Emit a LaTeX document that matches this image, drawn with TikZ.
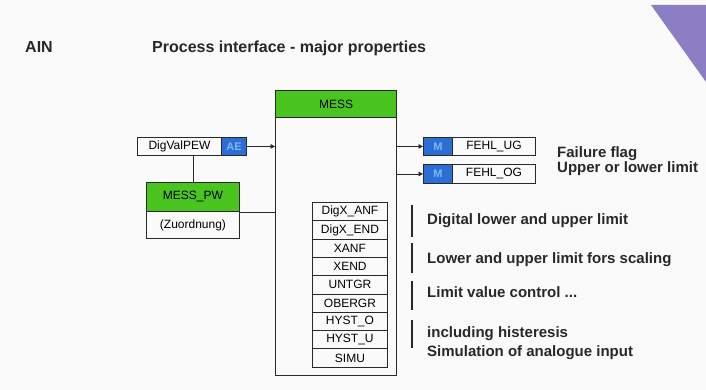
\documentclass[tikz,border=0pt]{standalone}
\usepackage{fontspec}
\setmainfont{Liberation Sans}
\usetikzlibrary{arrows.meta}
\definecolor{fbgreen}{RGB}{74,196,30}
\definecolor{pinblue}{RGB}{44,110,214}
\definecolor{pinmark}{RGB}{130,180,240}
\definecolor{cornerviolet}{RGB}{140,126,196}
\definecolor{inkgray}{RGB}{40,40,40}
\definecolor{paper}{RGB}{251,250,251}
\tikzset{
  px/.style={x=1pt,y=-1pt},
  boxfont/.style={font=\fontsize{12}{13}\selectfont},
  box/.style={draw=inkgray,line width=0.9pt,inner sep=0pt,anchor=north west,boxfont},
  hdr/.style={box,fill=fbgreen},
  pin/.style={box,fill=pinblue,text=pinmark,font=\fontsize{11}{12}\selectfont\bfseries},
  prow/.style={box,minimum width=75pt,minimum height=18.3pt},
  wire/.style={draw=inkgray,line width=0.8pt},
  sig/.style={wire,-{Triangle[length=4.5pt,width=4.5pt]}},
  lbl/.style={font=\fontsize{15}{16}\selectfont\bfseries,anchor=base west,inner sep=0pt,text=inkgray},
  head/.style={lbl,font=\fontsize{16}{17}\selectfont\bfseries},
  brace/.style={draw=inkgray,line width=1.2pt}
}
\begin{document}
\begin{tikzpicture}[px]
\fill[paper] (0,0) rectangle (706,390);
\useasboundingbox (0,0) rectangle (706,390);
% corner decoration
\fill[cornerviolet] (651,5) -- (706,5) -- (706,82) -- cycle;

% headings
\node[head] (ain) at (25,53) {AIN};
\node[head] (title) at (152,53) {Process interface - major properties};

% function block MESS
\node[box,line width=1.1pt,minimum width=121pt,minimum height=285pt] (mess) at (275,90) {};
\node[hdr,line width=1.1pt,minimum width=121pt,minimum height=27pt] (messh) at (275,90) {MESS};

% parameter list
\foreach \t [count=\i from 0] in {DigX\_ANF,DigX\_END,XANF,XEND,UNTGR,OBERGR,HYST\_O,HYST\_U,SIMU}{
  \node[prow] (p\i) at (312,{202+18.3*\i}) {\t};
}

% input DigValPEW
\node[box,minimum width=84pt,minimum height=18pt] (dv) at (137,137) {DigValPEW};
\node[pin,minimum width=25pt,minimum height=18pt] (ae) at (221,137) {AE};
\draw[sig] (ae.east) -- (ae.east -| mess.west);

% MESS_PW assignment block
\node[hdr,minimum width=93pt,minimum height=29pt] (pwh) at (146,182) {MESS\_PW};
\node[box,minimum width=93pt,minimum height=27pt] (pwb) at (146,211) {(Zuordnung)};
\draw[wire] (dv.south -| 193,0) -- (pwh.north -| 193,0);
\draw[wire] (pwh.south east) -- (pwh.south east -| mess.west);

% outputs
\node[pin,minimum width=29pt,minimum height=18pt] (m1) at (423,137) {M};
\node[box,minimum width=83pt,minimum height=18pt] (fug) at (452,137) {FEHL\_UG};
\node[pin,minimum width=29pt,minimum height=19pt] (m2) at (423,164) {M};
\node[box,minimum width=83pt,minimum height=19pt] (fog) at (452,164) {FEHL\_OG};
\draw[sig] (m1.west -| mess.east) -- (m1.west);
\draw[sig] (m2.west -| mess.east) -- (m2.west);

% output descriptions
\node[lbl] (ff) at (557,158) {Failure flag};
\node[lbl] (ul) at (557,173) {Upper or lower limit};

% parameter descriptions
\draw[brace] (412,205) -- (412,237);
\draw[brace] (412,243) -- (412,273);
\draw[brace] (412,281) -- (412,310);
\draw[brace] (412,320) -- (412,348);
\node[lbl] (d1) at (427,224) {Digital lower and upper limit};
\node[lbl] (d2) at (427,263) {Lower and upper limit fors scaling};
\node[lbl] (d3) at (427,297) {Limit value control ...};
\node[lbl] (d4) at (427,337) {including histeresis};
\node[lbl] (d5) at (427,356) {Simulation of analogue input};
\end{tikzpicture}
\end{document}
